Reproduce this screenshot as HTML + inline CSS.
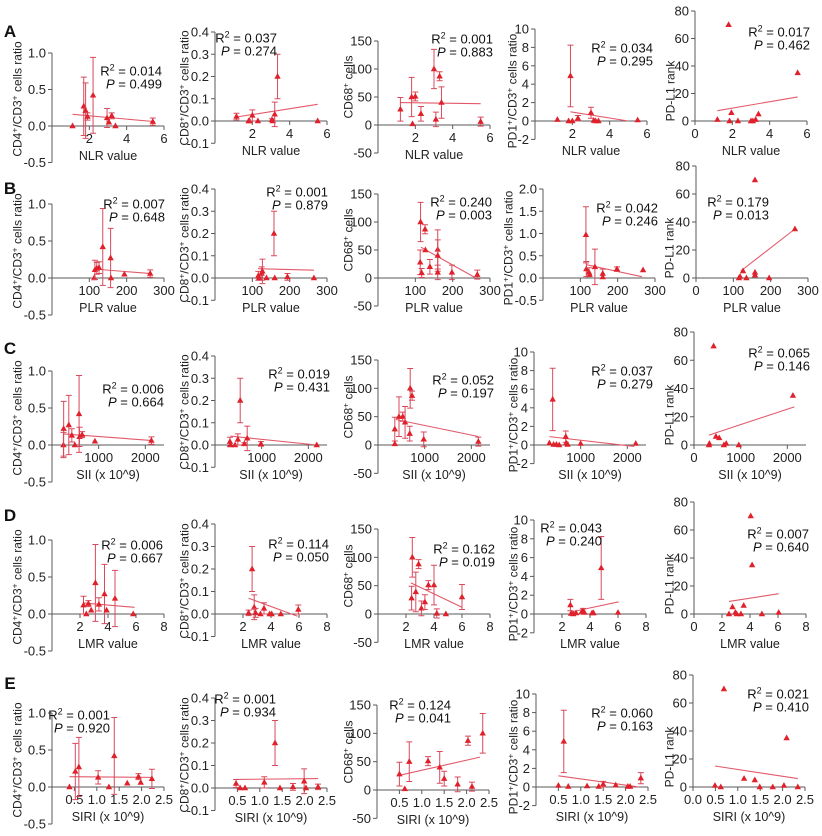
<!DOCTYPE html>
<html><head><meta charset="utf-8"><style>
html,body{margin:0;padding:0;background:#fff;}
svg{display:block;font-family:"Liberation Sans",Arial,sans-serif;}
</style></head><body>
<svg id="fig" width="822" height="836" viewBox="0 0 822 836" xmlns="http://www.w3.org/2000/svg"></svg>
<script>
// ---------- data ----------
const A1_x=[1.1,1.7,1.8,1.9,2.2,2.95,3.05,3.2,3.4,5.4];
const A1_y=[0,0.27,0.21,0.13,0.42,0.11,0.05,0.14,0,0.06];
const A1_e=[0,0.4,0.38,0.05,0.52,0.13,0,0.04,0,0.05];
const A1_fit=[1.1,0.16,5.5,0.06];
const A2_x=[1.15,1.8,1.85,2.0,2.3,3.05,3.1,3.2,3.35,5.5];
const A2_y=[0.02,0,0,0.025,0,0.005,0,0.03,0.2,0];
const A2_e=[0.015,0,0,0.025,0,0.005,0,0.055,0.1,0];
const A2_fit=[1.15,0.018,5.5,0.075];
const A3_x=[1.2,1.8,1.85,2.0,2.3,3.0,3.1,3.3,3.4,5.5];
const A3_y=[28,50,2,51,20,100,10,87,40,6];
const A3_e=[21,35,0,8,13,35,13,8,28,8];
const A3_fit=[1.2,40,5.5,38];
const A4_x=[1.2,1.8,1.9,2.0,2.3,3.0,3.15,3.25,3.4,5.5];
const A4_y=[0.15,0,4.9,0,0.3,0.9,0.05,0,0,0.1];
const A4_e=[0,0,3.35,0,0.3,0.6,0,0,0,0];
const A4_fit=[1.9,1.0,5.0,0];
const A5_x=[1.2,1.8,1.85,1.95,2.3,3.0,3.1,3.25,3.4,5.5];
const A5_y=[1,70,0,6,0,0,0,1,5,35];
const A5_fit=[1.2,7.5,5.5,17.5];

const B1_x=[113,115,120,126,136,157,158,194,263];
const B1_y=[0,0.11,0.13,0.14,0.42,0.27,0,0.05,0.06];
const B1_e=[0,0.13,0.08,0.08,0.52,0.4,0,0,0.05];
const B1_fit=[115,0.12,265,0.06];
const B2_x=[116,118,125,127,138,158,160,194,265];
const B2_y=[0.01,0,0.02,0.03,0,0.2,0,0.005,0];
const B2_e=[0.02,0,0.03,0.055,0,0.1,0,0.015,0];
const B2_fit=[115,0.042,265,0.035];
const B3_x=[113,114,117,126,127,139,160,160,160,198,266];
const B3_y=[28,100,9,87,50,20,51,40,10,10,6];
const B3_e=[22,35,8,8,0,13,35,28,13,13,8];
const B3_fit=[115,55,262,0];
const B4_x=[115,116,123,125,139,160,160,198,268];
const B4_y=[0.97,0.2,0.13,0.08,0.25,0.1,0.02,0.2,0.18];
const B4_e=[0.63,0.17,0.1,0,0.4,0.1,0,0.05,0];
const B4_fit=[116,0.3,265,0.03];
const B5_x=[115,118,126,135,158,158,158,196,265];
const B5_y=[0,1,5,0,70,2,4,0,35];
const B5_fit=[120,5,265,35];

const C1_x=[245,250,360,425,490,580,590,645,920,2130];
const C1_y=[0,0.22,0.27,0.13,0,0.42,0.11,0.14,0.05,0.06];
const C1_e=[0.17,0.37,0.4,0.09,0,0.52,0.13,0.04,0,0.05];
const C1_fit=[250,0.15,2150,0.06];
const C2_x=[320,330,430,490,540,630,690,985,2180];
const C2_y=[0.015,0,0,0.025,0.2,0.005,0.03,0.005,0];
const C2_e=[0.02,0,0,0.025,0.1,0.005,0.055,0.01,0];
const C2_fit=[330,0.04,2180,0];
const C3_x=[360,360,450,530,580,680,690,730,980,2150];
const C3_y=[28,2,50,50,40,20,100,87,10,6];
const C3_e=[21,0,35,8,28,13,35,8,13,8];
const C3_fit=[380,45,2150,15];
const C4_x=[330,400,420,480,540,680,690,720,1000,2180];
const C4_y=[0.2,4.9,0.05,0.05,0,0.9,0.2,0.05,0.15,0.15];
const C4_e=[0,3.35,0,0,0,0.6,0,0,0,0];
const C4_fit=[330,0.9,2150,-0.15];
const C5_x=[320,330,420,470,540,640,690,960,2120];
const C5_y=[0,1,70,6,5,0,1,0,35];
const C5_fit=[320,7,2150,27];

const D1_x=[2.25,2.45,2.6,2.8,3.1,3.35,3.75,3.9,4.5,5.8];
const D1_y=[0.12,0,0.14,0.05,0.42,0.13,0.27,0.05,0.21,0];
const D1_e=[0.12,0,0.04,0,0.52,0.09,0.4,0,0.38,0];
const D1_fit=[2.25,0.15,5.9,0.09];
const D2_x=[2.4,2.65,2.8,2.9,3.25,3.5,3.9,4.05,4.7,5.95];
const D2_y=[0.005,0.2,0.03,0.005,0,0.025,0,0,0,0.02];
const D2_e=[0.012,0.1,0.055,0.02,0,0.025,0,0,0,0.02];
const D2_fit=[2.4,0.07,5.9,-0.01];
const D3_x=[2.4,2.45,2.7,2.9,3.1,3.35,3.6,4.0,4.2,4.85,6.0];
const D3_y=[28,100,39,88,10,21,51,51,1,0,30];
const D3_e=[21,35,35,8,13,13,8,35,8,0,22];
const D3_fit=[2.35,55,6.0,12];
const D4_x=[2.6,2.65,2.8,3.0,3.4,3.5,3.6,4.15,4.25,4.8,6.0];
const D4_y=[0.95,0.05,0,0.1,0.2,0.3,0.15,0.1,0.1,4.9,0.15];
const D4_e=[0.6,0,0,0,0,0.3,0,0,0,3.35,0];
const D4_fit=[2.6,0.2,6.05,1.3];
const D5_x=[2.5,2.75,2.95,3.05,3.35,3.55,4.05,4.15,4.85,6.05];
const D5_y=[0,5,1,0,0,6,70,35,0,1];
const D5_fit=[2.5,9,6.05,14.5];

const E1_x=[0.39,0.52,0.6,1.03,1.27,1.39,1.68,1.93,1.98,2.23];
const E1_y=[0,0.21,0.27,0.13,0,0.42,0.05,0.14,0.06,0.11];
const E1_e=[0,0.38,0.4,0.09,0,0.52,0,0.04,0,0.13];
const E1_fit=[0.39,0.14,2.25,0.13];
const E2_x=[0.47,0.56,0.67,1.1,1.34,1.45,1.74,1.99,2.03,2.3];
const E2_y=[0.02,0,0,0.025,0.2,0,0.005,0.03,0,0.005];
const E2_e=[0.018,0,0,0.025,0.1,0,0.015,0.055,0,0.012];
const E2_fit=[0.47,0.038,2.3,0.042];
const E3_x=[0.5,0.62,0.72,1.14,1.4,1.5,1.8,2.03,2.12,2.36];
const E3_y=[28,2,50,51,40,20,10,87,6,100];
const E3_e=[21,0,35,8,28,13,13,8,8,35];
const E3_fit=[0.45,25,2.3,58];
const E4_x=[0.5,0.62,0.72,1.14,1.4,1.5,1.78,2.05,2.1,2.34];
const E4_y=[0.15,4.9,0.05,0.1,0.05,0.3,0.2,0.05,0.05,0.95];
const E4_e=[0,3.35,0,0,0,0.3,0,0,0,0.6];
const E4_fit=[0.5,1.2,2.3,0];
const E5_x=[0.49,0.62,0.69,1.14,1.38,1.49,1.78,2.03,2.09,2.34];
const E5_y=[1,0,70,6,5,0,0,1,35,0];
const E5_fit=[0.49,15,2.34,6];

const R2_text=[['0.014','0.037','0.001','0.034','0.017'],['0.007','0.001','0.240','0.042','0.179'],['0.006','0.019','0.052','0.037','0.065'],['0.006','0.114','0.162','0.043','0.007'],['0.001','0.001','0.124','0.060','0.021']];
const P_text=[['0.499','0.274','0.883','0.295','0.462'],['0.648','0.879','0.003','0.246','0.013'],['0.664','0.431','0.197','0.279','0.146'],['0.667','0.050','0.019','0.240','0.640'],['0.920','0.934','0.041','0.163','0.410']];
const rowLetters=['A','B','C','D','E'];
const xTitles=['NLR value','PLR value','SII (x 10^9)','LMR value','SIRI (x 10^9)'];
const xMaxes=[6,300,2400,8,2.5];
const xTicks=[[2,4,6],[100,200,300],[1000,2000],[2,4,6,8],[0.5,1.0,1.5,2.0,2.5]];
const xTicks5=[[0,2,4,6],[0,100,200,300],[0,1000,2000],[0,2,4,6,8],[0,0.5,1.0,1.5,2.0,2.5]];
const yTicksCol=[[-0.5,0,0.5,1.0],[-0.1,0,0.1,0.2,0.3,0.4],[-50,0,50,100,150],[-2,0,2,4,6,8,10],[0,20,40,60,80]];
const yTicksPD1B=[-0.5,0,0.5,1.0,1.5,2.0];

const DATA=[
 [[A1_x,A1_y,A1_e,A1_fit],[A2_x,A2_y,A2_e,A2_fit],[A3_x,A3_y,A3_e,A3_fit],[A4_x,A4_y,A4_e,A4_fit],[A5_x,A5_y,null,A5_fit]],
 [[B1_x,B1_y,B1_e,B1_fit],[B2_x,B2_y,B2_e,B2_fit],[B3_x,B3_y,B3_e,B3_fit],[B4_x,B4_y,B4_e,B4_fit],[B5_x,B5_y,null,B5_fit]],
 [[C1_x,C1_y,C1_e,C1_fit],[C2_x,C2_y,C2_e,C2_fit],[C3_x,C3_y,C3_e,C3_fit],[C4_x,C4_y,C4_e,C4_fit],[C5_x,C5_y,null,C5_fit]],
 [[D1_x,D1_y,D1_e,D1_fit],[D2_x,D2_y,D2_e,D2_fit],[D3_x,D3_y,D3_e,D3_fit],[D4_x,D4_y,D4_e,D4_fit],[D5_x,D5_y,null,D5_fit]],
 [[E1_x,E1_y,E1_e,E1_fit],[E2_x,E2_y,E2_e,E2_fit],[E3_x,E3_y,E3_e,E3_fit],[E4_x,E4_y,E4_e,E4_fit],[E5_x,E5_y,null,E5_fit]]
];

// ---------- layout ----------
const zeroYs=[[126,121,125,121,121],[278,278,278,278,278],[445,445,445,445,445],[614,614,614,614,614],[787,788,790,787,787]];
const topYs=[[53,32,41,29,11],[204,189,194,189,166],[371,356,360,352,332],[540,524,529,520,502],[713,698,705,694,675]];
const axisXs=[[52,215,378,535,695],[52,215,378,543,696],[52,215,378,534,694],[52,215,378,534,694],[52,215,377,536,693]];
const annPos=[[[162,71],[277,38],[493,39],[653,48],[810,32]],[[165,204],[328,192],[492,202],[658,208],[769,202]],[[164,389],[330,374],[494,380],[653,371],[810,353]],[[163,545],[329,544],[495,549],[602,528],[809,534]],[[110,715],[276,699],[451,705],[653,713],[809,694]]];
const letterY=[31,188,348,515,683];
const ylabX=[[17,184,348,512,670],[17,184,348,508,669],[17,184,348,513,669],[17,184,348,513,669],[17,184,348,513,669]];
const ylabOff=[-27,-33,-38,-30,-30];
const ylabHTML=['CD4<tspan dy="-4" font-size="8.5">+</tspan><tspan dy="4">/CD3</tspan><tspan dy="-4" font-size="8.5">+</tspan><tspan dy="4"> cells ratio</tspan>',
 'CD8<tspan dy="-4" font-size="8.5">+</tspan><tspan dy="4">/CD3</tspan><tspan dy="-4" font-size="8.5">+</tspan><tspan dy="4"> cells ratio</tspan>',
 'CD68<tspan dy="-4" font-size="8.5">+</tspan><tspan dy="4"> cells</tspan>',
 'PD1<tspan dy="-4" font-size="8.5">+</tspan><tspan dy="4">/CD3</tspan><tspan dy="-4" font-size="8.5">+</tspan><tspan dy="4"> cells ratio</tspan>',
 'PD-L1 rank'];
const colNames=['cd4','cd8','cd68','pd1','pdl1'];
const PW=112, AX='#5a5a5a', TRI='#e0202a', ERR='#d84a5c', FIT='#e25a6a';
const NS='http://www.w3.org/2000/svg';
const svg=document.getElementById('fig');
function mk(tag,attrs,parent){const e=document.createElementNS(NS,tag);for(const k in attrs)e.setAttribute(k,attrs[k]);(parent||svg).appendChild(e);return e;}
function fmtY(v,ticks){const dec=ticks.some(t=>Math.abs(t%1)>1e-9);return dec?v.toFixed(1):String(v);}

for(let r=0;r<5;r++){
  const L=mk('text',{x:10,y:letterY[r]+6,'font-size':17,'font-weight':'bold','text-anchor':'middle',fill:'#111'});
  
  
  L.textContent=rowLetters[r];
  for(let c=0;c<5;c++){
    const g=mk('g',{});
    
    
    const ax=axisXs[r][c], zy=zeroYs[r][c];
    const yt=(r===1&&c===3)?yTicksPD1B:yTicksCol[c];
    const ymax=yt[yt.length-1], ymin=yt[0];
    const ty=topYs[r][c];
    const ys=v=>zy-v*(zy-ty)/ymax;
    const xs=v=>ax+v*PW/xMaxes[r];
    const ya=mk('line',{x1:ax,y1:ys(ymin),x2:ax,y2:ys(ymax),stroke:AX,'stroke-width':1},g);
    
    
    yt.forEach(t=>{
      mk('line',{x1:ax-4,y1:ys(t),x2:ax,y2:ys(t),stroke:AX,'stroke-width':1},g);
      const tl=mk('text',{x:ax-6,y:ys(t)+4.5,'font-size':13,'text-anchor':'end',fill:'#222'},g);
      
      
      tl.textContent=fmtY(t,yt);
    });
    const xa=mk('line',{x1:ax,y1:zy,x2:ax+PW,y2:zy,stroke:AX,'stroke-width':1},g);
    
    
    const xt=(c===4)?xTicks5[r]:xTicks[r];
    xt.forEach(t=>{
      mk('line',{x1:xs(t),y1:zy,x2:xs(t),y2:zy+4,stroke:AX,'stroke-width':1},g);
      const tl=mk('text',{x:xs(t),y:zy+17,'font-size':13,'text-anchor':'middle',fill:'#222'},g);
      
      
      tl.textContent=(r===4)?t.toFixed(1):String(t);
    });
    const xtitle=mk('text',{x:ax+PW/2,y:zy+34,'font-size':12.5,'text-anchor':'middle',fill:'#222'},g);
    
    
    xtitle.textContent=xTitles[r];
    const lx=ylabX[r][c], ly=zy+ylabOff[c];
    const ytitle=mk('text',{x:lx,y:ly,'font-size':12,'text-anchor':'middle',fill:'#222',transform:'rotate(-90 '+lx+' '+ly+') translate(0 4.5)'},g);
    
    
    ytitle.innerHTML=ylabHTML[c];
    const [dx,dy,de,fit]=DATA[r][c];
    const fl=mk('line',{x1:xs(fit[0]),y1:ys(fit[1]),x2:xs(fit[2]),y2:ys(fit[3]),stroke:FIT,'stroke-width':1.1},g);
    
    
    for(let i=0;i<dx.length;i++){
      const px=xs(dx[i]), py=ys(dy[i]);
      if(de && de[i]>0){
        const eb=mk('path',{d:'M'+px+' '+ys(dy[i]+de[i])+'V'+ys(dy[i]-de[i])+'M'+(px-3)+' '+ys(dy[i]+de[i])+'H'+(px+3)+'M'+(px-3)+' '+ys(dy[i]-de[i])+'H'+(px+3),stroke:ERR,'stroke-width':1,fill:'none'},g);
        
        
      }
      const tri=mk('path',{d:'M'+px+' '+(py-3.5)+'L'+(px+3.2)+' '+(py+2.2)+'L'+(px-3.2)+' '+(py+2.2)+'Z',fill:TRI},g);
      
      
    }
    const [arx,ary]=annPos[r][c];
    const t1=mk('text',{x:arx,y:ary+4.5,'font-size':13,'text-anchor':'end',fill:'#111'},g);
    
    
    t1.innerHTML='R<tspan dy="-5" font-size="9">2</tspan><tspan dy="5"> = '+R2_text[r][c]+'</tspan>';
    const t2=mk('text',{x:arx,y:ary+17.5,'font-size':13,'text-anchor':'end',fill:'#111'},g);
    
    
    t2.innerHTML='<tspan font-style="italic">P</tspan> = '+P_text[r][c];
  }
}
</script>
</body></html>
